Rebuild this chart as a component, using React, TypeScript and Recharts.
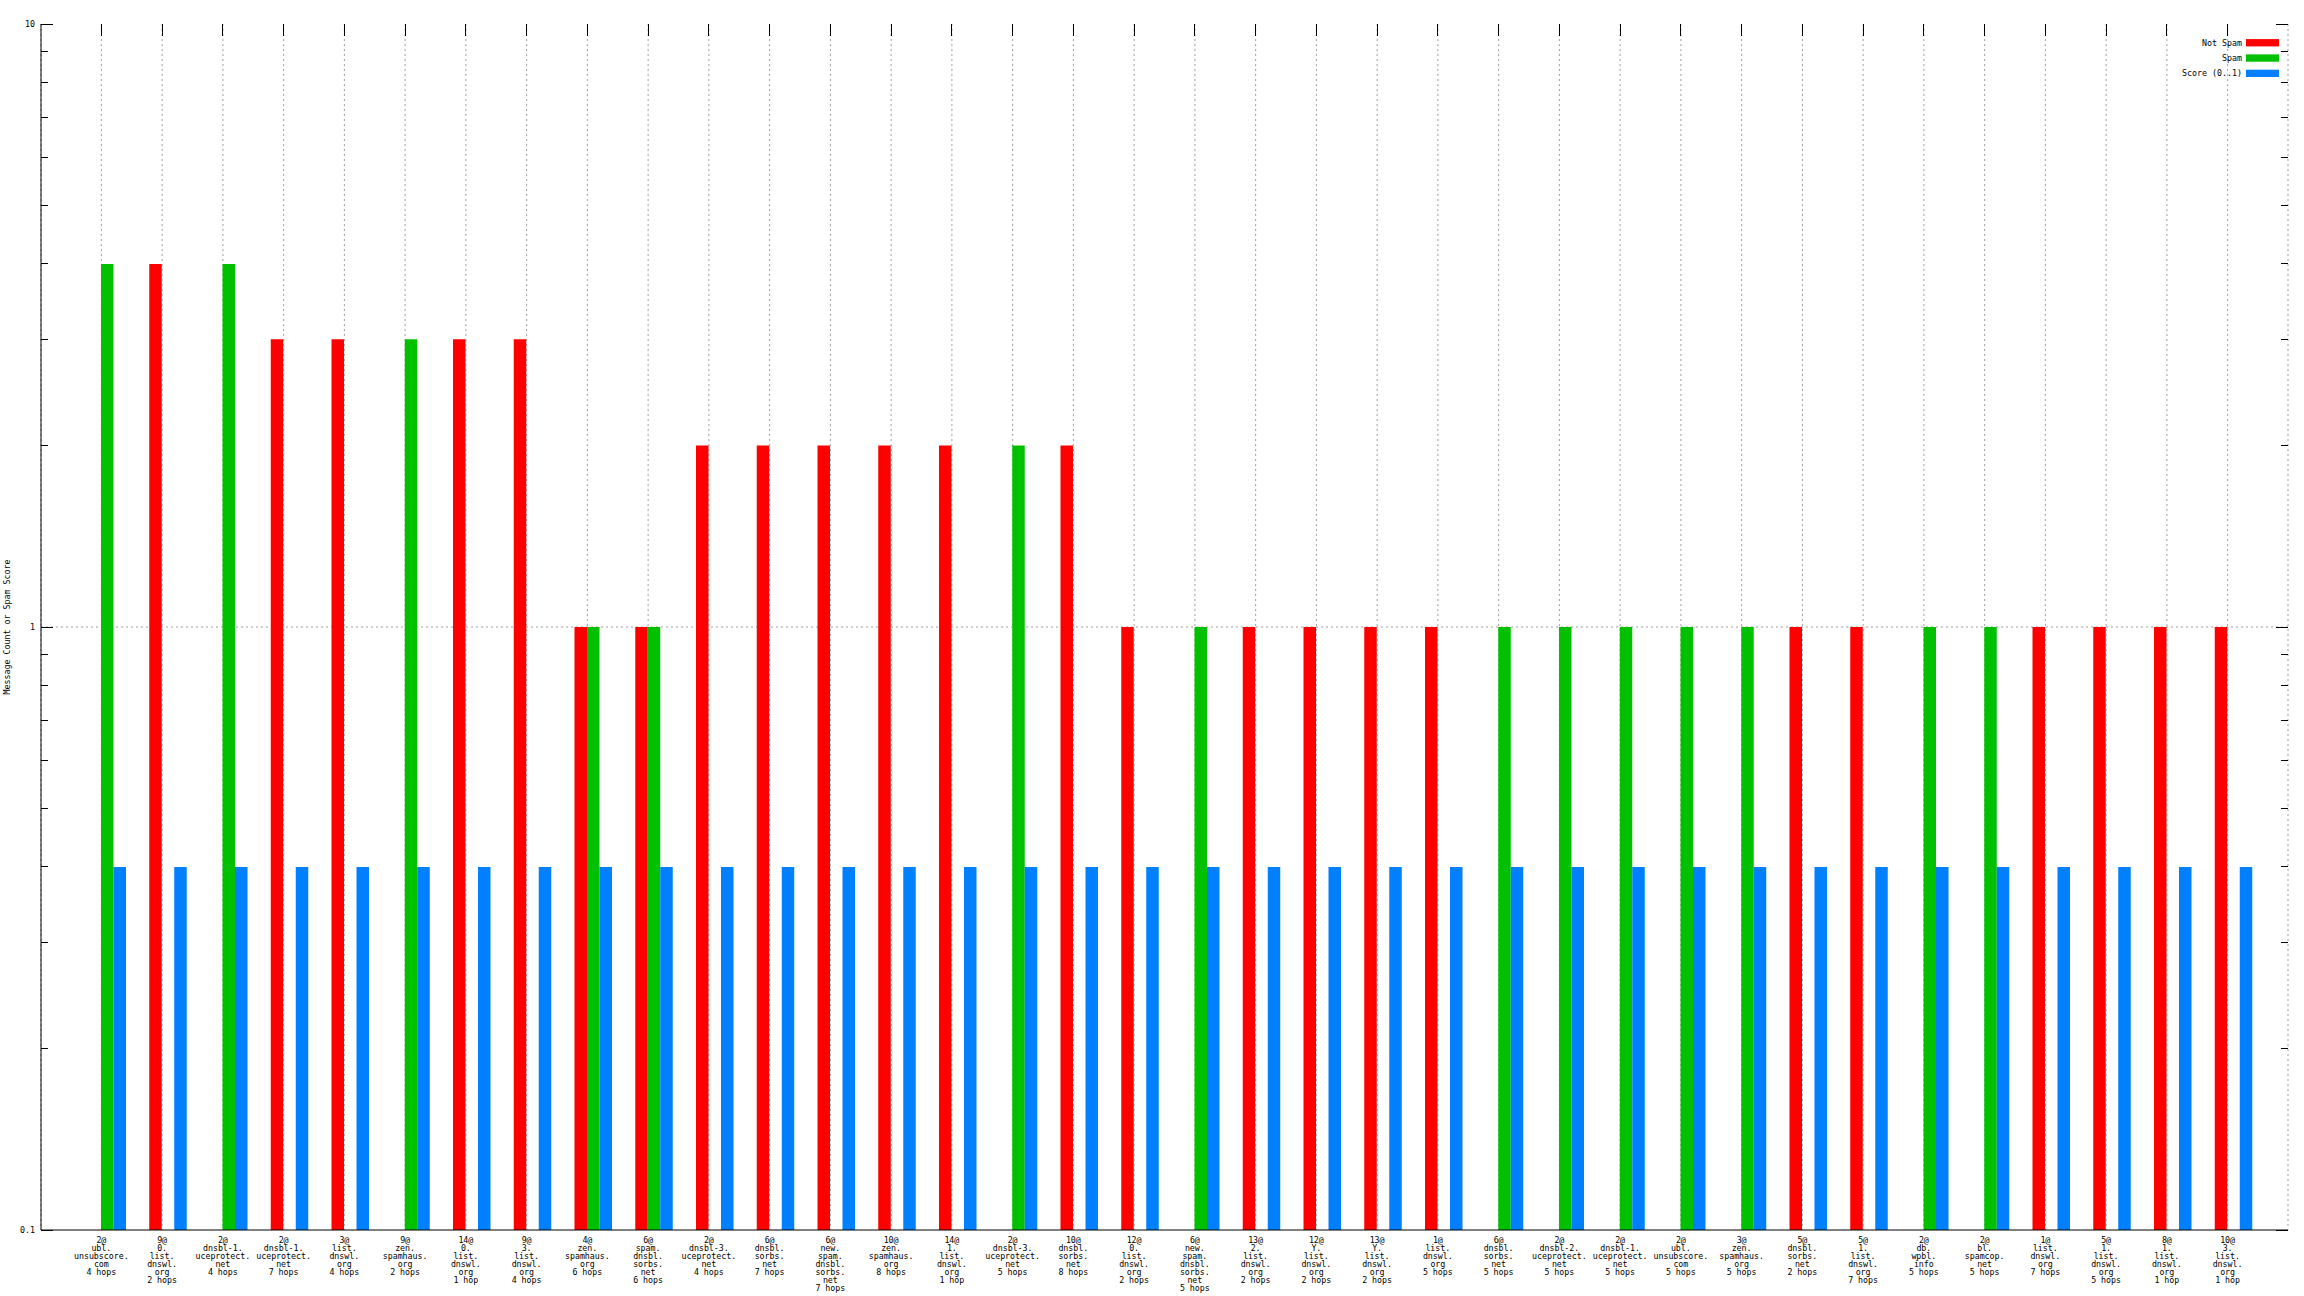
import React from "react";
import { BarChart, Bar, XAxis, YAxis, CartesianGrid, Legend } from "recharts";

// sender prefix, RBL zone and hop count for each category
const hostPrefixes = [
  "2@", "9@", "2@", "2@", "3@", "9@", "14@", "9@", "4@", "6@", "2@", "6@",
  "6@", "10@", "14@", "2@", "10@", "12@", "6@", "13@", "12@", "13@", "1@", "6@",
  "2@", "2@", "2@", "3@", "5@", "5@", "2@", "2@", "1@", "5@", "8@", "10@",
];
const rblNames = [
  "ubl.unsubscore.com", "0.list.dnswl.org", "dnsbl-1.uceprotect.net", "dnsbl-1.uceprotect.net",
  "list.dnswl.org", "zen.spamhaus.org", "0.list.dnswl.org", "3.list.dnswl.org",
  "zen.spamhaus.org", "spam.dnsbl.sorbs.net", "dnsbl-3.uceprotect.net", "dnsbl.sorbs.net",
  "new.spam.dnsbl.sorbs.net", "zen.spamhaus.org", "1.list.dnswl.org", "dnsbl-3.uceprotect.net",
  "dnsbl.sorbs.net", "0.list.dnswl.org", "new.spam.dnsbl.sorbs.net", "2.list.dnswl.org",
  "Y.list.dnswl.org", "Y.list.dnswl.org", "list.dnswl.org", "dnsbl.sorbs.net",
  "dnsbl-2.uceprotect.net", "dnsbl-1.uceprotect.net", "ubl.unsubscore.com", "zen.spamhaus.org",
  "dnsbl.sorbs.net", "1.list.dnswl.org", "db.wpbl.info", "bl.spamcop.net",
  "list.dnswl.org", "1.list.dnswl.org", "1.list.dnswl.org", "3.list.dnswl.org",
];
const hopLabels = [
  "4 hops", "2 hops", "4 hops", "7 hops", "4 hops", "2 hops", "1 hop", "4 hops", "6 hops",
  "6 hops", "4 hops", "7 hops", "7 hops", "8 hops", "1 hop", "5 hops", "8 hops", "2 hops",
  "5 hops", "2 hops", "2 hops", "2 hops", "5 hops", "5 hops", "5 hops", "5 hops", "5 hops",
  "5 hops", "2 hops", "7 hops", "5 hops", "5 hops", "7 hops", "5 hops", "1 hop", "1 hop",
];

const notSpamCounts = [
  null, 4, null, 3, 3, null, 3, 3, 1, 1, 2, 2, 2, 2, 2, null, 2, 1,
  null, 1, 1, 1, 1, null, null, null, null, null, 1, 1, null, null, 1, 1, 1, 1,
];
const spamCounts = [
  4, null, 4, null, null, 3, null, null, 1, 1, null, null, null, null, null, 2, null, null,
  1, null, null, null, null, 1, 1, 1, 1, 1, null, null, 1, 1, null, null, null, null,
];
const spamScores = [
  0.4, 0.4, 0.4, 0.4, 0.4, 0.4, 0.4, 0.4, 0.4, 0.4, 0.4, 0.4, 0.4, 0.4, 0.4, 0.4, 0.4, 0.4,
  0.4, 0.4, 0.4, 0.4, 0.4, 0.4, 0.4, 0.4, 0.4, 0.4, 0.4, 0.4, 0.4, 0.4, 0.4, 0.4, 0.4, 0.4,
];

const yTicks = [0.1, 0.2, 0.3, 0.4, 0.5, 0.6, 0.7, 0.8, 0.9, 1, 2, 3, 4, 5, 6, 7, 8, 9, 10];
const yMajorTicks = [0.1, 1, 10];

const TITLE =
  "RBL Statistics - Fri Oct  5 13:01:06 EDT 2018 - Insufficient Data - Relayed through other SMTP servers";
const Y_LABEL = "Message Count or Spam Score";

const RED = "#ff0000";
const GREEN = "#00c000";
const BLUE = "#0080ff";

const legendItems = [
  { name: "Not Spam", color: RED },
  { name: "Spam", color: GREEN },
  { name: "Score (0..1)", color: BLUE },
];

const W = 2304;
const H = 1296;
const PLOT_LEFT = 41;
const PLOT_TOP = 24;
const PLOT_RIGHT = 2288;
const PLOT_BOTTOM = 1230;
const FONT = "'DejaVu Sans Mono', monospace";
const FONT_SIZE = 8.3;

const chartData = hostPrefixes.map((prefix, i) => ({
  key: `c${i}`,
  pad: null,
  notSpam: notSpamCounts[i],
  spam: spamCounts[i],
  score: spamScores[i],
}));

// split "a.b.c" into "a." "b." "c" the way the plot wraps the zone names
function labelLines(i: number): string[] {
  const parts = rblNames[i].split(".");
  const zone = parts.map((p, j) => (j < parts.length - 1 ? p + "." : p));
  return [hostPrefixes[i], ...zone, hopLabels[i]];
}

function XTick(props: any) {
  const { x, payload } = props;
  const idx = Number(String(payload.value).slice(1));
  const lines = labelLines(idx);
  return (
    <g>
      <line x1={x} x2={x} y1={PLOT_TOP} y2={PLOT_TOP + 12} stroke="#000" shapeRendering="crispEdges" />
      {lines.map((line, j) => (
        <text
          key={j}
          x={x}
          y={PLOT_BOTTOM + 13 + j * 8}
          textAnchor="middle"
          fontFamily={FONT}
          fontSize={FONT_SIZE}
          fill="#000"
        >
          {line}
        </text>
      ))}
    </g>
  );
}

function YTick(props: any) {
  const { y, payload } = props;
  const major = yMajorTicks.includes(payload.value);
  const len = major ? 12 : 7;
  return (
    <g>
      <line x1={PLOT_LEFT} x2={PLOT_LEFT + len} y1={y} y2={y} stroke="#000" shapeRendering="crispEdges" />
      <line x1={PLOT_RIGHT - len} x2={PLOT_RIGHT} y1={y} y2={y} stroke="#000" shapeRendering="crispEdges" />
      {major && (
        <text x={35} y={y + 3} textAnchor="end" fontFamily={FONT} fontSize={FONT_SIZE} fill="#000">
          {String(payload.value)}
        </text>
      )}
    </g>
  );
}

const renderTitle = () => (
  <text
    x={(PLOT_LEFT + PLOT_RIGHT) / 2}
    y={14.5}
    textAnchor="middle"
    fontFamily={FONT}
    fontSize={FONT_SIZE}
    fill="#000"
  >
    {TITLE}
  </text>
);

const renderYLabel = () => {
  const cy = (PLOT_TOP + PLOT_BOTTOM) / 2;
  return (
    <text
      x={9.5}
      y={cy}
      transform={`rotate(-90 9.5 ${cy})`}
      textAnchor="middle"
      fontFamily={FONT}
      fontSize={FONT_SIZE}
      fill="#000"
    >
      {Y_LABEL}
    </text>
  );
};

const renderLegend = () => (
  <svg width={130} height={55} style={{ display: "block" }}>
    {legendItems.map((item, i) => {
      const cy = 12.7 + i * 15.3;
      return (
        <g key={item.name}>
          <text x={82} y={cy + 2.8} textAnchor="end" fontFamily={FONT} fontSize={FONT_SIZE} fill="#000">
            {item.name}
          </text>
          <rect x={86} y={cy - 3.6} width={33} height={7.3} fill={item.color} />
        </g>
      );
    })}
  </svg>
);

export default function App() {
  return (
    <div style={{ position: "absolute", left: 0, top: 0, width: W, height: H, background: "#fff" }}>
      <BarChart
        width={W}
        height={H}
        data={chartData}
        margin={{ top: PLOT_TOP, right: W - PLOT_RIGHT, bottom: 0, left: 0 }}
        barSize={12.5}
        barGap={0}
      >
        <CartesianGrid
          stroke="#a0a0a0"
          strokeDasharray="2 3"
          horizontalValues={[1]}
        />
        <XAxis
          dataKey="key"
          interval={0}
          height={H - PLOT_BOTTOM}
          padding={{ left: 30, right: 30 }}
          tickLine={false}
          axisLine={{ stroke: "#000" }}
          tick={<XTick />}
        />
        <XAxis
          xAxisId="top"
          orientation="top"
          dataKey="key"
          height={0}
          padding={{ left: 30, right: 30 }}
          tick={false}
          tickLine={false}
          axisLine={{ stroke: "#000" }}
          label={{ value: TITLE, content: renderTitle }}
        />
        <YAxis
          type="number"
          scale="log"
          domain={[0.1, 10]}
          allowDataOverflow
          ticks={yTicks}
          interval={0}
          width={PLOT_LEFT}
          tickLine={false}
          axisLine={{ stroke: "#000" }}
          tick={<YTick />}
          label={{ value: Y_LABEL, content: renderYLabel }}
        />
        <YAxis
          yAxisId="right"
          orientation="right"
          type="number"
          scale="log"
          domain={[0.1, 10]}
          allowDataOverflow
          width={0}
          tick={false}
          tickLine={false}
          axisLine={{ stroke: "#000" }}
        />
        <Legend
          layout="vertical"
          align="center"
          verticalAlign="middle"
          width={130}
          height={55}
          wrapperStyle={{ left: 2160, top: 30 }}
          content={renderLegend}
        />
        <Bar dataKey="pad" fill="transparent" isAnimationActive={false} legendType="none" />
        <Bar dataKey="notSpam" name="Not Spam" fill={RED} isAnimationActive={false} />
        <Bar dataKey="spam" name="Spam" fill={GREEN} isAnimationActive={false} />
        <Bar dataKey="score" name="Score (0..1)" fill={BLUE} isAnimationActive={false} />
      </BarChart>
    </div>
  );
}
